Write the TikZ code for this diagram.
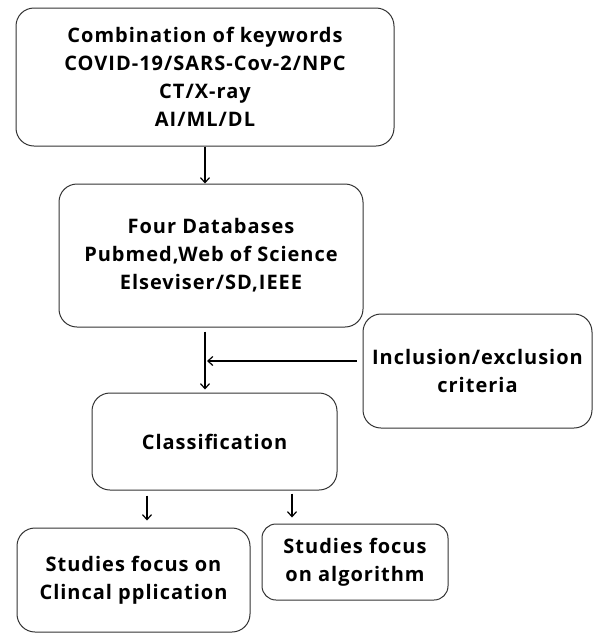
\documentclass[tikz,border=0pt]{standalone}
\usepackage{fontspec}
\setmainfont{Open Sans}[LetterSpace=5]
\usetikzlibrary{arrows.meta}

\begin{document}
\begin{tikzpicture}[
                x=1pt, y=1pt,
                font=\fontsize{20}{28}\selectfont\bfseries,
                % Estilos de los bloques
                flow box/.style={
                    draw=black!80,
                    line width=1pt,
                    rounded corners=18pt,
                    align=center,
                    inner sep=0pt
                },
                flow arrow/.style={
                    draw=black,
                    line width=1.2pt,
                    -{Straight Barb[length=5pt,width=9pt]}
                }
            ]

                % --- MARGENES DE LA FIGURA ---
                \useasboundingbox (0,0) rectangle (593,-633);

                % --- BLOQUES ---
                \node[flow box, minimum width=378pt, minimum height=138pt] (keys) at (205,-77)
                    {Combination of keywords\\COVID-19/SARS-Cov-2/NPC\\CT/X-ray\\AI/ML/DL};
                \node[flow box, minimum width=304pt, minimum height=143pt] (dbase) at (211,-255.5)
                    {Four Databases\\Pubmed,Web of Science\\Elseviser/SD,IEEE};
                \node[flow box, minimum width=229pt, minimum height=114pt] (crit) at (477.5,-371)
                    {Inclusion/exclusion\\criteria};
                \node[flow box, minimum width=245pt, minimum height=97pt] (classif) at (214.5,-441.5)
                    {Classification};
                \node[flow box, minimum width=233pt, minimum height=104pt] (clinic) at (133.5,-580)
                    {Studies focus on\\Clincal pplication};
                \node[flow box, minimum width=186pt, minimum height=76pt, rounded corners=14pt] (algo) at (355,-562)
                    {Studies focus\\on algorithm};

                % --- CONEXIONES ---
                \draw[flow arrow] (keys.south) -- (keys.south |- dbase.north);
                \draw[flow arrow] ([yshift=-4pt]keys.south |- dbase.south) -- ([yshift=3pt]keys.south |- classif.north);
                \draw[flow arrow] ([xshift=-6pt,yshift=10pt]crit.west) -- ([xshift=2pt,yshift=10pt]keys.south |- crit.west);
                \draw[flow arrow] ([xshift=13.5pt,yshift=-5pt]clinic.north |- classif.south) -- ([xshift=13.5pt,yshift=7pt]clinic.north);
                \draw[flow arrow] ([xshift=-63pt,yshift=-3pt]algo.north |- classif.south) -- ([xshift=-63pt,yshift=6pt]algo.north);

            \end{tikzpicture}
\end{document}
